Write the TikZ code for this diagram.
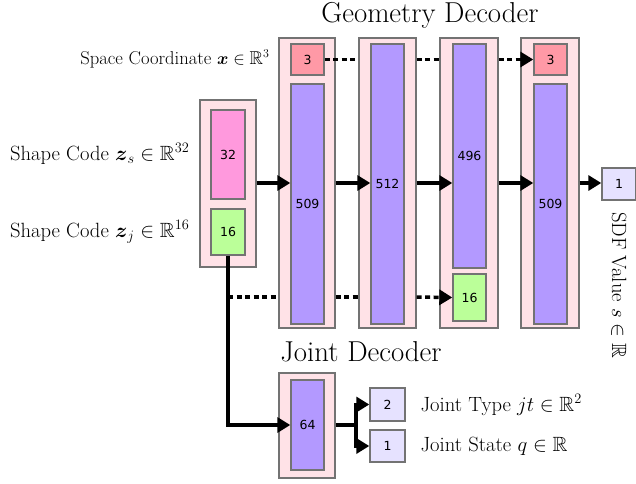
\documentclass[tikz,border=0pt]{standalone}
\usepackage{amsmath, amsfonts, amssymb}
\usepackage{fontspec}
\newfontfamily\numfont{DejaVu Sans}
\usepackage{tikz}
\usetikzlibrary{arrows.meta, calc}
\definecolor{layerpink}{HTML}{FFE2E7}
\definecolor{codepink}{HTML}{FF99DD}
\definecolor{codegreen}{HTML}{BBFF99}
\definecolor{coordred}{HTML}{FF99A6}
\definecolor{hiddenpurple}{HTML}{B399FF}
\definecolor{outlavender}{HTML}{E6E2FF}
\tikzset{
    layer/.style={draw=black!55, line width=1.4pt, fill=layerpink, inner sep=0pt},
    unit/.style={draw=black!55, line width=1.4pt, inner sep=0pt, font=\numfont\fontsize{12.5}{14}\selectfont},
    flow/.style={-{Triangle[length=13pt, width=15pt]}, line width=3.5pt},
    skip/.style={line width=3.5pt, dash pattern=on 5pt off 3.5pt},
    label/.style={font=\fontsize{20.6}{23}\selectfont},
    title/.style={font=\fontsize{28.8}{32}\selectfont}
}

\begin{document}
\begin{tikzpicture}[x=1pt, y=-1pt]
    \useasboundingbox (0,0) rectangle (636,483);
    % input codes
    \node[layer, minimum width=56pt, minimum height=167pt] (inlayer) at (228,183.5) {};
    \node[unit, fill=codepink, minimum width=34pt, minimum height=89pt] (zs) at (228,154.5) {32};
    \node[unit, fill=codegreen, minimum width=34pt, minimum height=46pt] (zj) at (228,232) {16};
    \node[label, anchor=east] at (193,154) {Shape Code $\boldsymbol{z}_s \in \mathbb{R}^{32}$};
    \node[label, anchor=east] at (193,232) {Shape Code $\boldsymbol{z}_j \in \mathbb{R}^{16}$};

    % geometry decoder
    \node[layer, minimum width=56pt, minimum height=290pt] (geo1) at (307,183) {};
    \node[unit, fill=coordred, minimum width=33pt, minimum height=31pt] (xin) at (307.5,59.5) {3};
    \node[unit, fill=hiddenpurple, minimum width=33pt, minimum height=240pt] (h1) at (307.5,204) {509};
    \node[layer, minimum width=57pt, minimum height=290pt] (geo2) at (387.5,183) {};
    \node[unit, fill=hiddenpurple, minimum width=33pt, minimum height=280pt] (h2) at (387.5,184) {512};
    \node[layer, minimum width=58pt, minimum height=290pt] (geo3) at (469,183) {};
    \node[unit, fill=hiddenpurple, minimum width=33pt, minimum height=224pt] (h3) at (469.5,156) {496};
    \node[unit, fill=codegreen, minimum width=33pt, minimum height=47pt] (zskip) at (469.5,297.5) {16};
    \node[layer, minimum width=58pt, minimum height=290pt] (geo4) at (550,183) {};
    \node[unit, fill=coordred, minimum width=33pt, minimum height=31pt] (xskip) at (550.5,59.5) {3};
    \node[unit, fill=hiddenpurple, minimum width=33pt, minimum height=240pt] (h4) at (550.5,204) {509};
    \node[unit, fill=outlavender, minimum width=34pt, minimum height=32pt] (sdf) at (619,184) {1};
    \node[title] at (430,15) {Geometry Decoder};
    \node[label, anchor=east] at (273,59) {\fontsize{18.6}{21}\selectfont Space Coordinate $\boldsymbol{x} \in \mathbb{R}^3$};
    \node[label, rotate=-90] at (619,285) {SDF Value $s \in \mathbb{R}$};

    % joint decoder
    \node[layer, minimum width=56pt, minimum height=105pt] (jlayer) at (307,425.5) {};
    \node[unit, fill=hiddenpurple, minimum width=33pt, minimum height=90pt] (hj) at (307.5,425) {64};
    \node[unit, fill=outlavender, minimum width=35pt, minimum height=33pt] (jtype) at (387.5,404.5) {2};
    \node[unit, fill=outlavender, minimum width=35pt, minimum height=32pt] (jstate) at (387.5,446) {1};
    \node[title] at (361,352) {Joint Decoder};
    \node[label, anchor=west] at (417,405) {Joint Type $jt \in \mathbb{R}^2$};
    \node[label, anchor=west] at (417,446) {Joint State $q \in \mathbb{R}$};

    % skip connections
    \coordinate (xsplit) at (228,297);
    \draw[skip] (xin.east) -- (geo2.west |- xin.east);
    \draw[skip] (geo2.east |- xin.east) -- (geo3.west |- xin.east);
    \draw[skip, -{Triangle[length=13pt, width=15pt]}] (geo3.east |- xin.east) -- (xskip.west);
    \draw[skip] (xsplit) -- (geo1.west |- xsplit);
    \draw[skip] (geo1.east |- xsplit) -- (geo2.west |- xsplit);
    \draw[skip, -{Triangle[length=13pt, width=15pt]}] (geo2.east |- xsplit) -- (zskip.west);

    % main flow
    \draw[flow] (inlayer.east |- 0,183) -- (h1.west |- 0,183);
    \draw[flow] (geo1.east |- 0,183) -- (h2.west |- 0,183);
    \draw[flow] (geo2.east |- 0,183) -- (h3.west |- 0,183);
    \draw[flow] (geo3.east |- 0,183) -- (h4.west |- 0,183);
    \draw[flow] (geo4.east |- 0,183) -- (sdf.west |- 0,183);
    \draw[flow] (zj.south) |- (hj.west);
    \coordinate (jsplit) at (356,425);
    \draw[line width=3.5pt] (jlayer.east |- hj.west) -- (jsplit);
    \draw[flow] (jsplit) |- (jtype.west);
    \draw[flow] (jsplit) |- (jstate.west);
\end{tikzpicture}
\end{document}
